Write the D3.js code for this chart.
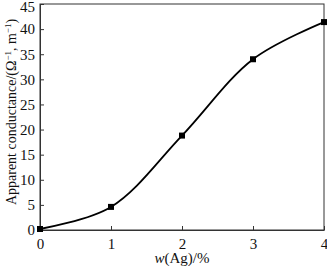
<!DOCTYPE html>
<html><head><meta charset="utf-8">
<script src="https://cdn.jsdelivr.net/npm/d3@7"></script>
<style>body{margin:0;background:#fff}svg{display:block}</style>
</head><body>
<script>
const xValues = [0, 1, 2, 3, 4];
const yValues = [0.2, 4.6, 18.8, 34.0, 41.4];
const xTicks = [0, 1, 2, 3, 4];
const yTicks = [0, 5, 10, 15, 20, 25, 30, 35, 40, 45];

const W = 327, H = 266;
const m = {left: 40, right: 3, top: 4, bottom: 36};
const svg = d3.select("body").append("svg").attr("width", W).attr("height", H);
const font = "'Liberation Serif','Times New Roman',serif";

const x = d3.scaleLinear().domain([0, 4]).range([m.left, W - m.right]);
const y = d3.scaleLinear().domain([0, 45]).range([H - m.bottom, m.top]);

svg.append("rect").attr("x", m.left).attr("y", m.top)
  .attr("width", x(4) - x(0)).attr("height", y(0) - y(45))
  .attr("fill", "none").attr("stroke", "#333").attr("stroke-width", 1);

const xAxis = svg.append("g").attr("transform", `translate(0,${y(0)})`)
  .call(d3.axisBottom(x).tickValues(xTicks).tickSizeInner(-4).tickSizeOuter(0).tickPadding(8).tickFormat(d3.format("d")));
const yAxis = svg.append("g").attr("transform", `translate(${x(0)},0)`)
  .call(d3.axisLeft(y).tickValues(yTicks).tickSizeInner(-4).tickSizeOuter(0).tickPadding(5).tickFormat(d3.format("d")));
[xAxis, yAxis].forEach(g => {
  g.select(".domain").attr("stroke", "#333");
  g.selectAll(".tick line").attr("stroke", "#333");
  g.selectAll(".tick text").attr("font-family", font).attr("font-size", 15).attr("fill", "#111");
});
yAxis.selectAll(".tick").filter(d => d === 45).select("text").attr("dy", "0.52em");

const line = d3.line().x((d, i) => x(xValues[i])).y(d => y(d)).curve(d3.curveCatmullRom.alpha(0.5));
svg.append("path").datum(yValues).attr("d", line)
  .attr("fill", "none").attr("stroke", "#000").attr("stroke-width", 1.8);

svg.selectAll(".pt").data(yValues).enter().append("rect")
  .attr("x", (d, i) => x(xValues[i]) - 3).attr("y", d => y(d) - 3)
  .attr("width", 6).attr("height", 6).attr("fill", "#000");

const xl = svg.append("text").attr("x", (x(0) + x(4)) / 2).attr("y", 263)
  .attr("text-anchor", "middle").attr("font-family", font).attr("font-size", 15).attr("fill", "#111");
xl.append("tspan").attr("font-style", "italic").text("w");
xl.append("tspan").text("(Ag)/%");

const yl = svg.append("text").attr("transform", `translate(16,112) rotate(-90)`)
  .attr("text-anchor", "middle").attr("font-family", font).attr("font-size", 14).attr("fill", "#111");
yl.append("tspan").text("Apparent conductance/(Ω");
yl.append("tspan").attr("dy", -5).attr("font-size", 9).text("−1");
yl.append("tspan").attr("dy", 5).text(", m");
yl.append("tspan").attr("dy", -5).attr("font-size", 9).text("−1");
yl.append("tspan").attr("dy", 5).text(")");
</script>
</body></html>
